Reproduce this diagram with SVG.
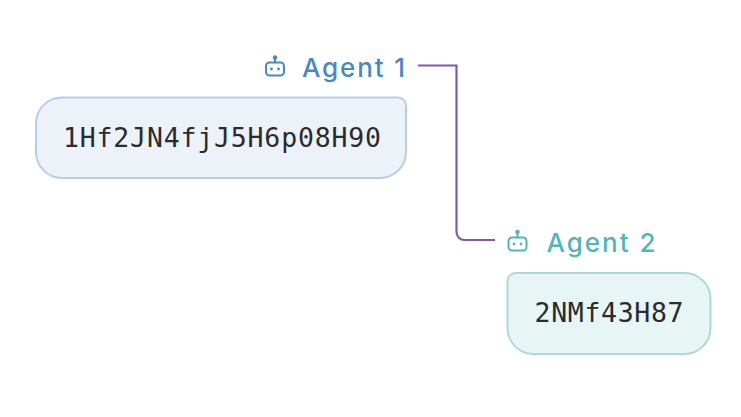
<svg xmlns="http://www.w3.org/2000/svg" width="741" height="417" viewBox="0 0 741 417">
<style>
.lbl{font-family:Inter,"Noto Sans","DejaVu Sans",sans-serif;font-size:26px;font-weight:500}
.mono{font-family:"DejaVu Sans Mono","Liberation Mono",monospace;font-size:26.5px;fill:#2b2b2b}
.ic{fill:none;stroke-width:2;stroke-linecap:round;stroke-linejoin:round}
</style>
<rect width="741" height="417" fill="#ffffff"/>
<g id="connectors">
<path d="M418,65.5 H456.5 V232 A8 8 0 0 0 464.5,240 H495" fill="none" stroke="#7d5ba6" stroke-width="2.2"/>
</g>
<g id="agent1">
<g class="ic" stroke="#4a88c2">
<rect x="266" y="62.5" width="18" height="13" rx="3.5"/>
<line x1="275" y1="59.5" x2="275" y2="62.5"/>
<circle cx="275" cy="57.5" r="1.3" fill="#4a88c2"/>
</g>
<circle cx="271.5" cy="69" r="1.4" fill="#4a88c2"/>
<circle cx="278.5" cy="69" r="1.4" fill="#4a88c2"/>
<text class="lbl" x="302" y="77" fill="#4a88c2" textLength="103" lengthAdjust="spacing">Agent 1</text>
<path d="M62,97.5 H398 A8 8 0 0 1 406,105.5 V152 A26 26 0 0 1 380,178 H62 A26 26 0 0 1 36,152 V123.5 A26 26 0 0 1 62,97.5 Z" fill="#edf2f9" stroke="#b5cee6" stroke-width="2"/>
<text class="mono" x="222" y="147" text-anchor="middle" textLength="318" lengthAdjust="spacing">1Hf2JN4fjJ5H6p08H90</text>
</g>
<g id="agent2">
<g class="ic" stroke="#52b6b9">
<rect x="508.5" y="237.5" width="18" height="13" rx="3.5"/>
<line x1="517.5" y1="234" x2="517.5" y2="237.5"/>
<circle cx="517.5" cy="232" r="1.3" fill="#52b6b9"/>
</g>
<circle cx="514" cy="244" r="1.4" fill="#52b6b9"/>
<circle cx="521" cy="244" r="1.4" fill="#52b6b9"/>
<text class="lbl" x="546.5" y="251.5" fill="#52b6b9" textLength="109" lengthAdjust="spacing">Agent 2</text>
<path d="M515.5,273 H684.5 A26 26 0 0 1 710.5,299 V328 A26 26 0 0 1 684.5,354 H533.5 A26 26 0 0 1 507.5,328 V281 A8 8 0 0 1 515.5,273 Z" fill="#e8f5f5" stroke="#a9d9db" stroke-width="2"/>
<text class="mono" x="609" y="321.5" text-anchor="middle" textLength="149" lengthAdjust="spacing">2NMf43H87</text>
</g>
</svg>
